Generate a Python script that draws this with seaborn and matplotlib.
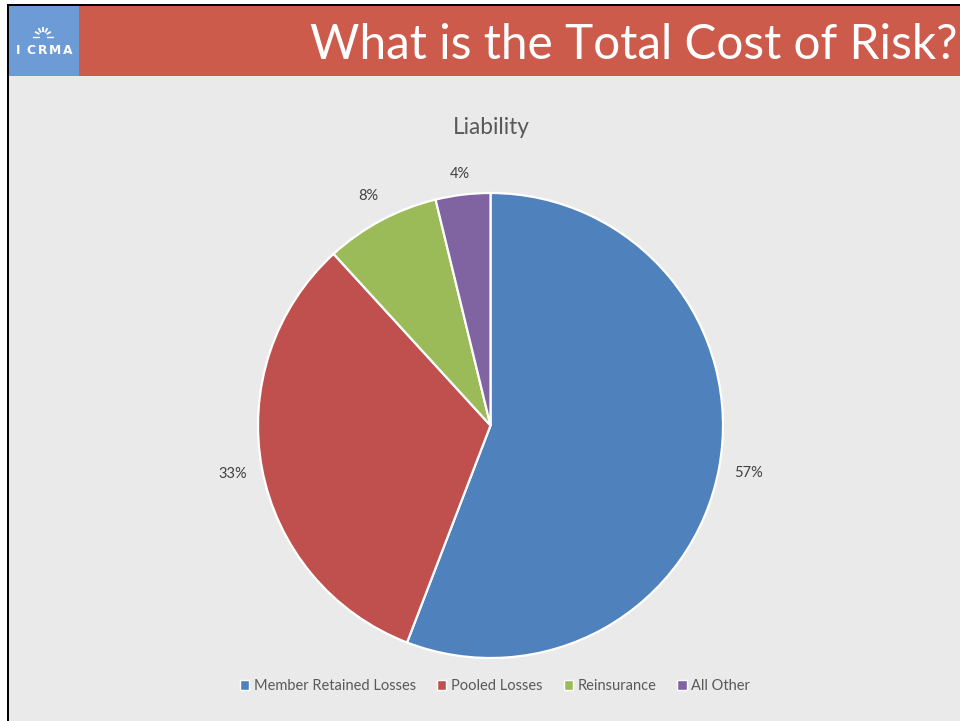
import math
import matplotlib
matplotlib.use("Agg")
import matplotlib.pyplot as plt
from matplotlib.patches import Rectangle, Patch
import seaborn as sns

# ---- data ----
categories = ["Member Retained Losses", "Pooled Losses", "Reinsurance", "All Other"]
shares = [55.9, 32.4, 8.0, 3.8]          # slice sizes as drawn
share_labels = ["57%", "33%", "8%", "4%"]  # labels as printed
colors = ["#4F81BD", "#C0504D", "#9BBB59", "#8064A2"]
slide_title = "What is the Total Cost of Risk?"
chart_title = "Liability"
logo_text = "ICRMA"

sns.set_theme(style="white")
plt.rcParams['font.family'] = ['Lato', 'DejaVu Sans']

W, H = 960, 721
fig = plt.figure(figsize=(W / 100, H / 100), dpi=100)
fig.patch.set_facecolor("white")

def px(x0, y0, w, h):
    return [x0 / W, 1 - (y0 + h) / H, w / W, h / H]

# slide background
bg = fig.add_axes([0, 0, 1, 1])
bg.set_xlim(0, W); bg.set_ylim(H, 0); bg.axis("off")
bg.add_patch(Rectangle((9, 6), W, H, facecolor="#EAEAEA", edgecolor="none"))
bg.add_patch(Rectangle((7, 4), W, 2, facecolor="black", edgecolor="none"))
bg.add_patch(Rectangle((7, 4), 2, H, facecolor="black", edgecolor="none"))
bg.add_patch(Rectangle((79, 6), W - 79, 70, facecolor="#CD5B4C", edgecolor="none"))
bg.add_patch(Rectangle((9, 6), 70, 70, facecolor="#6C9BD5", edgecolor="none"))
bg.text(957, 45, slide_title, color="white", fontsize=34.4, ha="right", va="center")

# logo
for i, ch in enumerate(logo_text):
    bg.text(18 + i * 12.5, 50, ch, color="white", fontsize=8.8, fontweight="bold",
            ha="center", va="center", family=["DejaVu Sans"])
for ang in [-62, -30, 0, 30, 62]:
    a = math.radians(ang)
    x1, y1 = 43 + 4 * math.sin(a), 36 - 4 * math.cos(a)
    x2, y2 = 43 + 9 * math.sin(a), 36 - 9 * math.cos(a)
    bg.plot([x1, x2], [y1, y2], color="white", lw=1.3, solid_capstyle="butt")
bg.plot([33, 39], [36.5, 36.5], color="white", lw=1.0)
bg.plot([47, 53], [36.5, 36.5], color="white", lw=1.0)

bg.text(491, 127, chart_title, color="#595959", fontsize=16.3, ha="center", va="center")

# pie
ax = fig.add_axes(px(258, 193, 465, 465))
wedges, texts = ax.pie(shares, labels=share_labels, colors=colors, startangle=90,
                       counterclock=False, labeldistance=1.125,
                       wedgeprops=dict(edgecolor="white", linewidth=1.6),
                       textprops=dict(color="#404040", fontsize=10.5))
label_dist = [1.13, 1.13, 1.12, 1.09]
for w, t, d in zip(wedges, texts, label_dist):
    mid = math.radians((w.theta1 + w.theta2) / 2)
    t.set_position((d * math.cos(mid), d * math.sin(mid)))
    t.set_ha("center"); t.set_va("center")
ax.set_xlim(-1, 1); ax.set_ylim(-1, 1)
ax.set_aspect("equal")
ax.axis("off")

handles = [Patch(facecolor=c, edgecolor="white", label=n) for c, n in zip(colors, categories)]
fig.legend(handles=handles, loc="center", bbox_to_anchor=(495 / W, 1 - 686 / H), ncol=4,
           frameon=False, handlelength=0.65, handleheight=0.65, handletextpad=0.3,
           columnspacing=1.45, prop=dict(size=10.5), labelcolor="#595959")

fig.savefig("out.png", dpi=100, facecolor=fig.get_facecolor())
